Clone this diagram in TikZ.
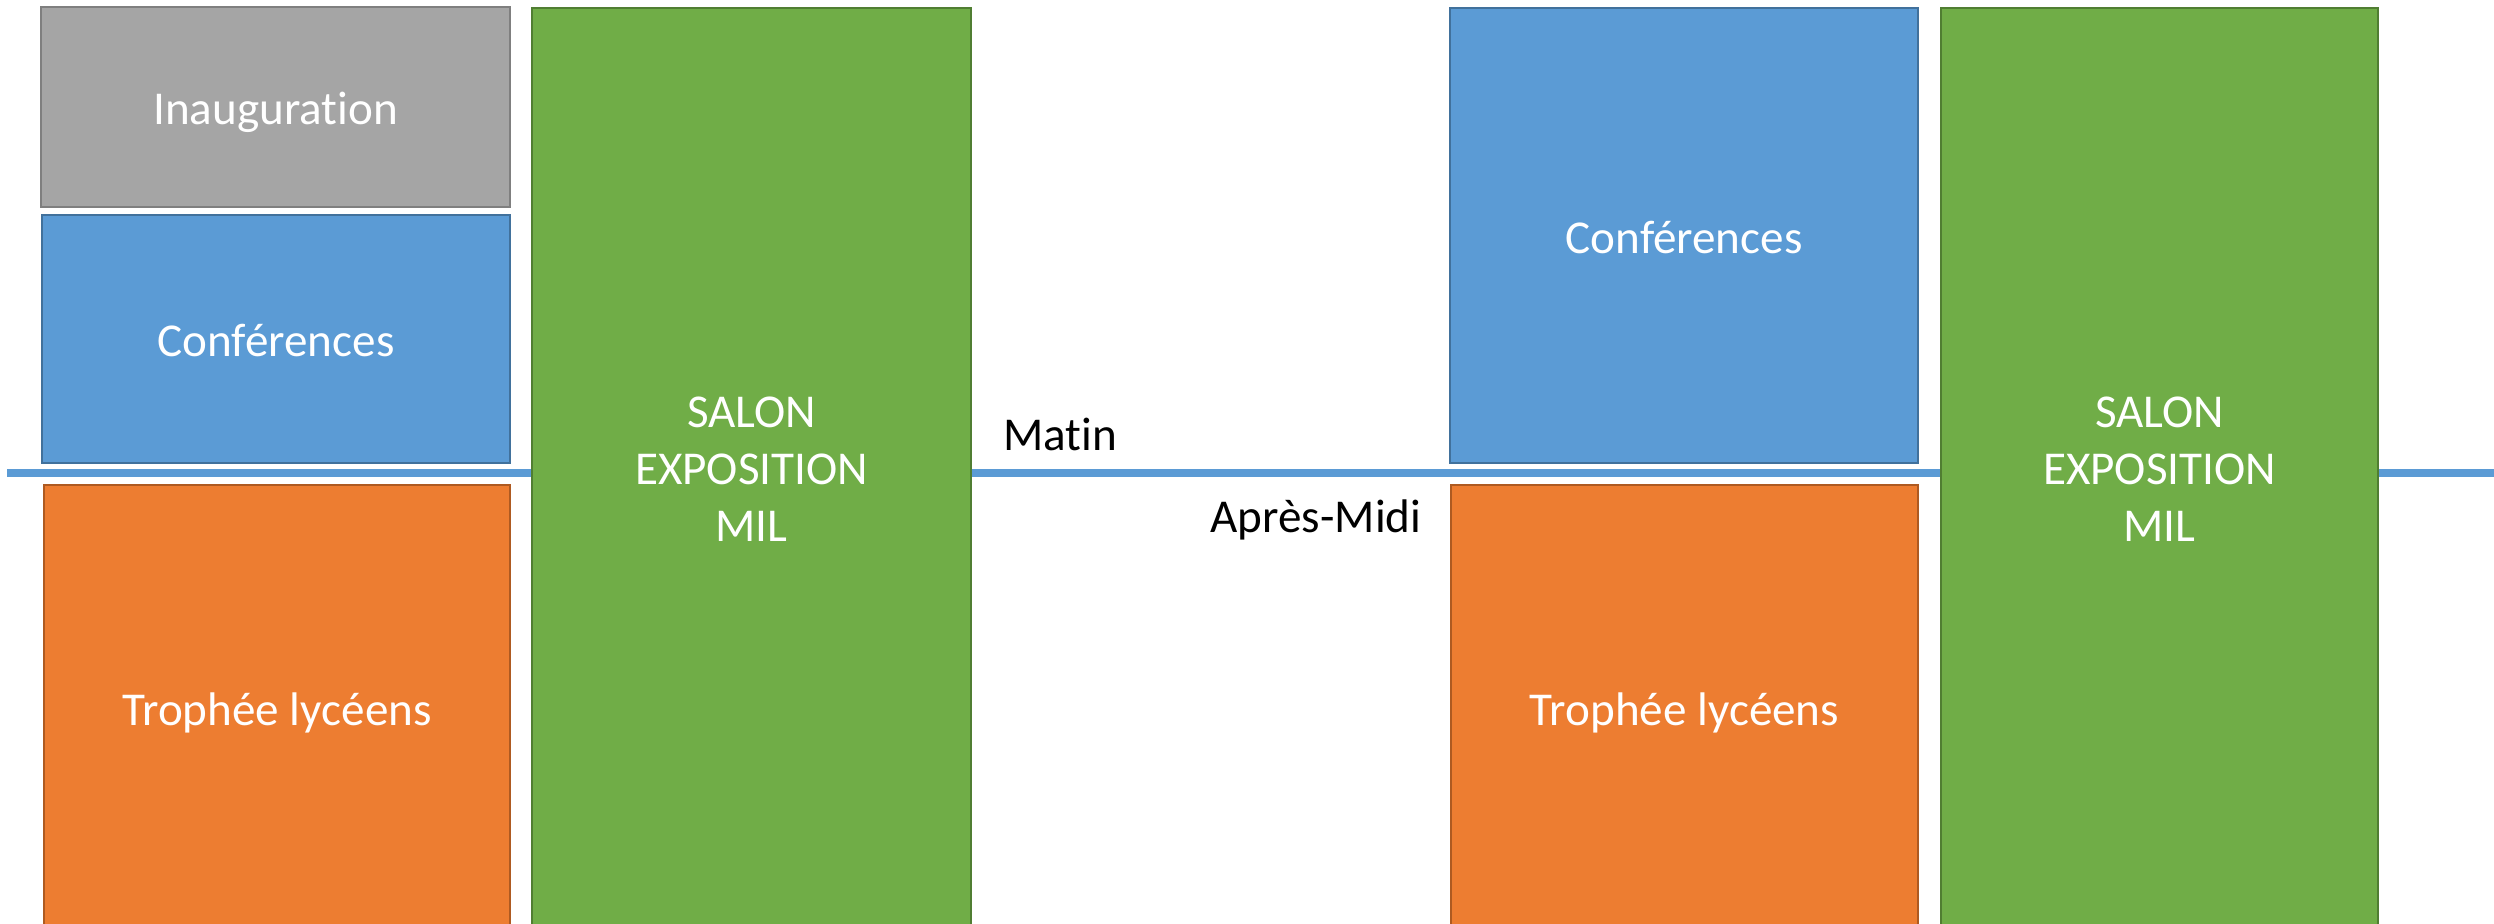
\documentclass[tikz,border=0pt]{standalone}
\usepackage{fontspec}
\setmainfont{Carlito}[Ligatures={NoCommon}]
\definecolor{grayfill}{HTML}{A5A5A5}
\definecolor{graydraw}{HTML}{7F7F7F}
\definecolor{bluefill}{HTML}{5B9BD5}
\definecolor{bluedraw}{HTML}{41719C}
\definecolor{orangefill}{HTML}{ED7D31}
\definecolor{orangedraw}{HTML}{AE5A21}
\definecolor{greenfill}{HTML}{70AD47}
\definecolor{greendraw}{HTML}{507E32}
\tikzset{
  box/.style={rectangle, inner sep=0pt, line width=0.6pt, text=white,
    font=\fontsize{13.4pt}{16.2pt}\selectfont, align=center},
  onebox/.style={box, text height=10pt, text depth=0pt},
  graybox/.style={onebox, fill=grayfill, draw=graydraw},
  bluebox/.style={onebox, fill=bluefill, draw=bluedraw},
  orangebox/.style={onebox, fill=orangefill, draw=orangedraw},
  greenbox/.style={box, fill=greenfill, draw=greendraw},
  timeline/.style={draw=bluefill, line width=2.27pt},
  period/.style={font=\fontsize{13.4pt}{16.2pt}\selectfont, text=black, inner sep=0pt, anchor=base}
}
\begin{document}
\begin{tikzpicture}[x=0.01cm, y=-0.01cm]
\useasboundingbox (0,0) rectangle (2494,923);
\clip (0,0) rectangle (2494,923);
\fill[white] (0,0) rectangle (2494,923);
% timeline
\coordinate (L) at (7,472.5);
\coordinate (R) at (2500,472.5);
\draw[timeline] (L) -- (R);
% left day
\node[graybox, minimum width=4.69cm, minimum height=2.00cm] (inaug) at (275.5,107) {Inauguration};
\node[bluebox, minimum width=4.68cm, minimum height=2.48cm] (conf1) at (276,339) {Conférences};
\node[orangebox, minimum width=4.66cm, minimum height=4.46cm] (troph1) at (277,708) {Trophée lycéens};
\node[greenbox, minimum width=4.39cm, minimum height=9.23cm] (salon1) at (751.5,469.5) {SALON\\EXPOSITION\\MIL};
% right day
\node[bluebox, minimum width=4.68cm, minimum height=4.55cm] (conf2) at (1684,235.5) {Conférences};
\node[orangebox, minimum width=4.67cm, minimum height=4.46cm] (troph2) at (1684.5,708) {Trophée lycéens};
\node[greenbox, minimum width=4.37cm, minimum height=9.23cm] (salon2) at (2159.5,469.5) {SALON\\EXPOSITION\\MIL};
% labels
\node[period] (matin) at (1060,450) {Matin};
\node[period] (apres) at (1316,532) {Après-Midi};
\end{tikzpicture}
\end{document}
